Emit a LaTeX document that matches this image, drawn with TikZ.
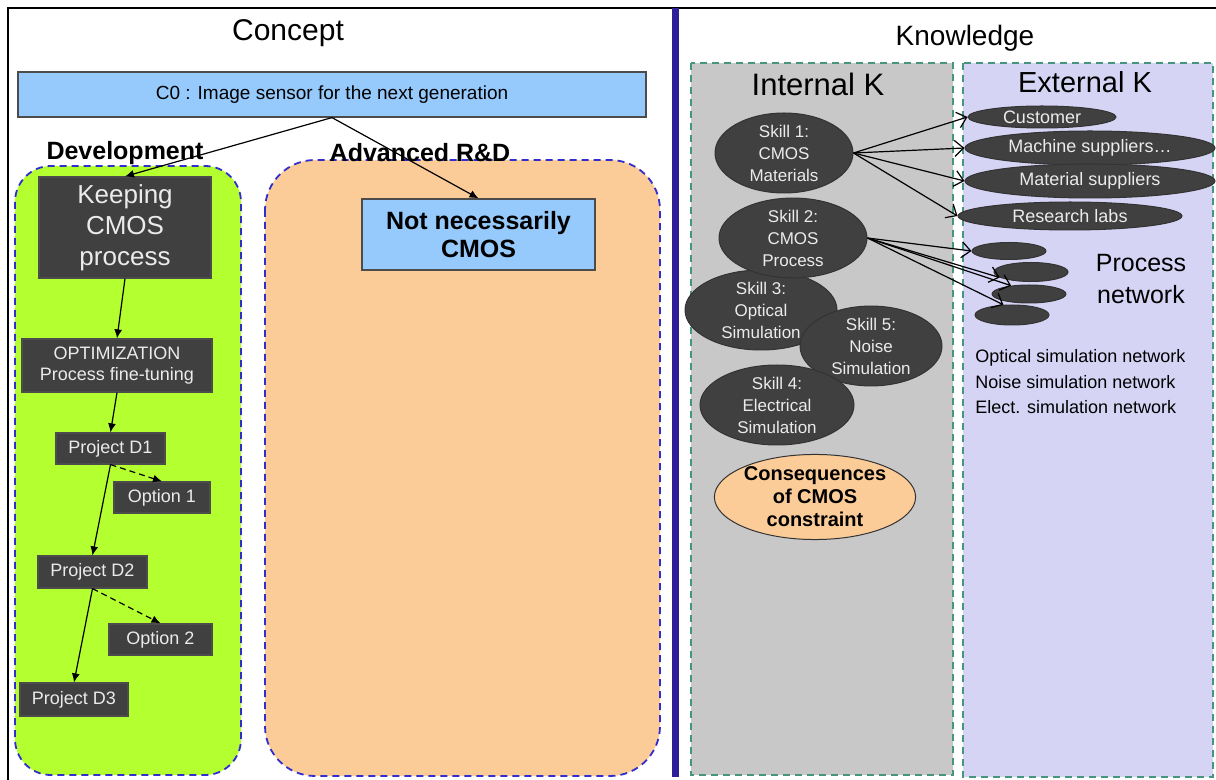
\documentclass[tikz,border=0pt]{standalone}
\usepackage{fontspec}
\setmainfont{Liberation Sans}
\usetikzlibrary{arrows.meta,shapes.geometric,calc}
\tikzset{every picture/.style={line width=0.75pt}}
\definecolor{skyfill}{RGB}{150,202,252}
\definecolor{limefill}{RGB}{180,255,48}
\definecolor{peachfill}{RGB}{252,204,152}
\definecolor{boxgray}{RGB}{64,64,64}
\definecolor{panelgray}{RGB}{200,200,200}
\definecolor{lavfill}{RGB}{214,212,245}
\definecolor{tealdash}{RGB}{70,150,125}
\definecolor{dashblue}{RGB}{50,45,205}
\definecolor{divider}{RGB}{45,32,150}
\tikzset{
  darkbox/.style={draw=black!70, line width=0.6pt, fill=boxgray, text=white!92!black, inner sep=0pt, align=center},
  bluebox/.style={draw=black!70, line width=0.6pt, fill=skyfill, inner sep=0pt, align=center},
  skill/.style={ellipse, draw=black!80, line width=0.5pt, fill=boxgray, text=white!92!black, inner sep=0pt, align=center, font=\fontsize{8.5}{11}\selectfont},
  partner/.style={ellipse, draw=black!80, line width=0.5pt, fill=boxgray, text=white!92!black, inner sep=0pt, font=\fontsize{9}{11}\selectfont},
  zone/.style={dash pattern=on 3.5pt off 2.5pt, line width=0.9pt},
  link/.style={-{Latex[length=4.5pt,width=4pt]}, line width=0.6pt},
  optlink/.style={link, dash pattern=on 3pt off 2pt},
  reach/.style={-{Straight Barb[length=4.5pt,width=8pt]}, line width=0.6pt},
}

\begin{document}
\begin{tikzpicture}[x=0.5pt, y=-0.5pt]
    \useasboundingbox (0,0) rectangle (1216,780);
    % cadre et separation
    \draw[line width=0.6pt] (8,781) -- (8,8) -- (1217,8);
    \fill[divider] (672,8) rectangle (679,777);
    % titres
    \node[font=\fontsize{15}{18}\selectfont] (concept) at (288,33) {Concept};
    \node[font=\fontsize{14}{17}\selectfont] (knowledge) at (965,38) {Knowledge};

    % zones concept
    \draw[zone, draw=dashblue, fill=limefill, rounded corners=18pt] (15,166) rectangle (241,775);
    \draw[zone, draw=dashblue, fill=peachfill, rounded corners=25pt] (265,160) rectangle (660,776);
    \node[font=\fontsize{12.5}{15}\selectfont\bfseries] (devtitle) at (125,153) {Development};
    \node[font=\fontsize{12.5}{15}\selectfont\bfseries] (rdtitle) at (420,153) {Advanced R\&D};

    % C0
    \node[bluebox, minimum width=314pt, minimum height=22.5pt, font=\fontsize{9.5}{11}\selectfont] (c0) at (332,94.5) {C0 : Image sensor for the next generation};

    % branche developpement
    \node[darkbox, minimum width=86pt, minimum height=50.5pt, font=\fontsize{13}{15.5}\selectfont] (keep) at (125,227.5) {Keeping\\CMOS\\process};
    \node[darkbox, minimum width=95pt, minimum height=26.5pt, font=\fontsize{9}{10.5}\selectfont] (optim) at (117,365.5) {OPTIMIZATION\\Process fine-tuning};
    \node[darkbox, minimum width=54.5pt, minimum height=15.5pt, font=\fontsize{9}{11}\selectfont] (d1) at (110.5,448.5) {Project D1};
    \node[darkbox, minimum width=48pt, minimum height=15.5pt, font=\fontsize{9}{11}\selectfont] (opt1) at (162,497.5) {Option 1};
    \node[darkbox, minimum width=54.5pt, minimum height=16pt, font=\fontsize{9}{11}\selectfont] (d2) at (92.5,572) {Project D2};
    \node[darkbox, minimum width=51.5pt, minimum height=15.5pt, font=\fontsize{9}{11}\selectfont] (opt2) at (160.5,639.5) {Option 2};
    \node[darkbox, minimum width=54pt, minimum height=16.5pt, font=\fontsize{9}{11}\selectfont] (d3) at (74,699.5) {Project D3};

    % branche R&D
    \node[bluebox, minimum width=116.5pt, minimum height=35.5pt, font=\fontsize{12.5}{14}\selectfont\bfseries] (notcmos) at (478.5,234.5) {Not necessarily\\CMOS};

    % fleches concept
    \draw[link] (c0.south) -- (keep.north);
    \draw[link] (c0.south) -- (notcmos.north);
    \draw[link] (keep.south) -- (optim.north);
    \draw[link] (optim.south) -- (d1.north);
    \draw[link] (d1.south) -- (d2.north);
    \draw[optlink] (d1.south) -- (opt1.north);
    \draw[link] (d2.south) -- (d3.north);
    \draw[optlink] (d2.south) -- (opt2.north);

    % panneaux connaissances
    \draw[zone, draw=tealdash, fill=panelgray] (691,63) rectangle (953,775);
    \draw[zone, draw=tealdash, fill=lavfill] (963,63) rectangle (1213,777);
    \node[font=\fontsize{15.5}{18}\selectfont] (intk) at (818,84) {Internal K};
    \node[font=\fontsize{14.5}{17}\selectfont] (extk) at (1085,82) {External K};

    % competences internes
    \node[skill, minimum width=69pt, minimum height=40pt] (sk1) at (784,153) {Skill 1:\\CMOS\\Materials};
    \node[skill, minimum width=76pt, minimum height=40pt] (sk3) at (761,310) {Skill 3:\\Optical\\Simulation};
    \node[skill, minimum width=74pt, minimum height=33pt] (sk2) at (793,238) {Skill 2:\\CMOS\\Process};
    \node[skill, minimum width=71pt, minimum height=39pt] (sk5) at (871,346) {Skill 5:\\Noise\\Simulation};
    \node[skill, minimum width=77pt, minimum height=40pt] (sk4) at (777,405) {Skill 4:\\Electrical\\Simulation};
    \node[ellipse, draw=black!80, line width=0.5pt, fill=peachfill, inner sep=0pt, align=center, minimum width=89pt, minimum height=41pt, font=\fontsize{10}{11.5}\selectfont\bfseries] (conseq) at (815,497) {Consequences\\of CMOS\\constraint};

    % partenaires externes
    \node[partner, minimum width=74pt, minimum height=11pt] (cust) at (1042,117) {Customer};
    \node[partner, minimum width=125pt, minimum height=17pt] (machine) at (1090,148) {Machine suppliers\dots};
    \node[partner, minimum width=125pt, minimum height=17pt] (material) at (1090,181) {Material suppliers};
    \node[partner, minimum width=112pt, minimum height=14pt] (labs) at (1070,216) {Research labs};
    \node[partner, minimum width=37pt, minimum height=8.5pt] (sm1) at (1009,251) {};
    \node[partner, minimum width=37pt, minimum height=9.5pt] (sm2) at (1031,272) {};
    \node[partner, minimum width=37pt, minimum height=9pt] (sm3) at (1029,294) {};
    \node[partner, minimum width=37pt, minimum height=10pt] (sm4) at (1012,315) {};
    \node[font=\fontsize{12.5}{16}\selectfont, align=center] (procnet) at (1141,279) {Process\\network};
    \node[font=\fontsize{9}{12.75}\selectfont, align=left, anchor=west] (simnets) at (968,382) {Optical simulation network\\Noise simulation network\\Elect. simulation network};

    % liens vers l'exterieur
    \draw[reach] (sk1.east) -- (cust.west);
    \draw[reach] (sk1.east) -- (machine.west);
    \draw[reach] (sk1.east) -- (material.west);
    \draw[reach] (sk1.east) -- (labs.west);
    \draw[reach] (sk2.east) -- (sm1.west);
    \draw[reach] (sk2.east) -- (sm2.190);
    \draw[reach] (sk2.east) -- (sm3.155);
    \draw[reach] (sk2.east) -- (sm4.130);
\end{tikzpicture}
\end{document}
